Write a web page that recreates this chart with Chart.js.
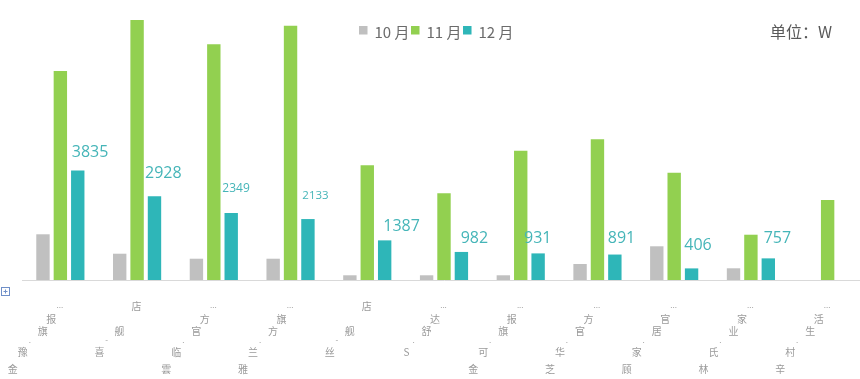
<!DOCTYPE html>
<html><head><meta charset="utf-8">
<script src="https://cdn.jsdelivr.net/npm/chart.js@4.4.1/dist/chart.umd.min.js"></script>
<style>html,body{margin:0;padding:0;background:#fff;overflow:hidden;width:860px;height:379px}canvas{display:block}</style>
</head><body>
<canvas id="c" width="866" height="379"></canvas>
<script>
// ---- data ----
const categoryLabels = [
  ["...","报","旗",".","豫","金"],
  ["店","","舰","-","喜",""],
  ["...","方","官",".","临","雲"],
  ["...","旗","方",".","兰","雅"],
  ["店","","舰","-","丝",""],
  ["...","达","舒",".","S",""],
  ["...","报","旗",".","可","金"],
  ["...","方","官",".","华","芝"],
  ["...","官","居",".","家","顾"],
  ["...","家","业",".","氏","林"],
  ["...","活","生",".","村","辛"]
];
const seriesNames = ["10 月", "11 月", "12 月"];
const oct = [1600, 920, 745, 745, 165, 165, 165, 560, 1180, 410, null];
const nov = [7315, 9100, 8250, 8900, 4015, 3035, 4525, 4925, 3755, 1585, 2800];
const dec = [3835, 2928, 2349, 2133, 1387, 982, 931, 891, 406, 757, null];
const unitText = "单位：W";

// ---- styles (positions / sizes) ----
const labelDx = [0.7, -2.8, -2.2, 1.1, 5.3, 6, -7.4, -0.4, -0.6, 2.1];
const labelRise = [13.4, 18, 21.2, 20.1, 9.7, 9.2, 10.7, 11.8, 18.4, 15.7];
const labelSize = [16, 16, 12, 11.5, 16, 16, 16, 16, 16, 16];
const tickSlots = [[-0.5, 26], [-9, 39], [-17.5, 51.5], [-30.5, 61.5], [-37.5, 72.5], [-47.5, 89]];

const labelPlugin = {
  id: 'decLabels',
  afterDatasetsDraw(chart, args, o) {
    const meta = chart.getDatasetMeta(2);
    const vals = chart.data.datasets[2].data;
    const ctx = chart.ctx;
    ctx.save();
    ctx.fillStyle = o.color;
    ctx.textAlign = 'left';
    ctx.textBaseline = 'alphabetic';
    meta.data.forEach((bar, i) => {
      const v = vals[i];
      if (v == null) return;
      ctx.font = labelSize[i] + 'px ' + o.family;
      ctx.fillText(String(v), bar.x - bar.width / 2 + labelDx[i], bar.y - labelRise[i]);
    });
    ctx.restore();
  }
};

const tickPlugin = {
  id: 'diagTicks',
  afterDraw(chart, args, o) {
    const xs = chart.scales.x;
    const ctx = chart.ctx;
    ctx.save();
    ctx.fillStyle = o.color;
    ctx.textAlign = 'center';
    chart.data.labels.forEach((lab, i) => {
      const cx = xs.getPixelForValue(i);
      lab.forEach((ch, k) => {
        if (!ch) return;
        const dx = tickSlots[k][0], dy = tickSlots[k][1];
        const punct = /^[.\-]+$/.test(ch);
        ctx.font = (punct ? o.punctSize : o.size) + 'px ' + o.family;
        ctx.textBaseline = punct ? 'alphabetic' : 'middle';
        ctx.fillText(ch, cx + dx, xs.top + dy + (punct ? 1.5 : 0));
      });
    });
    // small expand icon at the left edge
    ctx.strokeStyle = '#6f8fc8';
    ctx.lineWidth = 1;
    ctx.strokeRect(1.5, 287.5, 8, 8);
    ctx.beginPath();
    ctx.moveTo(3.5, 291.5); ctx.lineTo(7.5, 291.5);
    ctx.moveTo(5.5, 289.5); ctx.lineTo(5.5, 293.5);
    ctx.stroke();
    ctx.restore();
  }
};

const legendPlugin = {
  id: 'topLegend',
  afterDraw(chart, args, o) {
    const ctx = chart.ctx;
    ctx.save();
    ctx.font = o.size + 'px ' + o.family;
    ctx.textBaseline = 'middle';
    ctx.textAlign = 'left';
    let x = o.x;
    chart.data.datasets.forEach(ds => {
      ctx.fillStyle = ds.backgroundColor;
      ctx.fillRect(x, o.boxTop, o.box, o.box);
      x += o.box + o.gap;
      ctx.fillStyle = o.color;
      ctx.fillText(ds.label, x, o.textY);
      x += ctx.measureText(ds.label).width + o.itemGap;
    });
    ctx.font = o.unitSize + 'px ' + o.family;
    ctx.fillStyle = o.unitColor;
    ctx.fillText(unitText, o.unitX, o.unitY);
    ctx.restore();
  }
};

new Chart(document.getElementById('c'), {
  type: 'bar',
  data: {
    labels: categoryLabels,
    datasets: [
      { label: seriesNames[0], data: oct, backgroundColor: '#c0c0c0' },
      { label: seriesNames[1], data: nov, backgroundColor: '#92d050' },
      { label: seriesNames[2], data: dec, backgroundColor: '#2eb6b8' }
    ]
  },
  options: {
    responsive: false,
    animation: false,
    layout: { padding: { left: 22, right: 0, top: 8, bottom: 99 } },
    datasets: { bar: { categoryPercentage: 0.68, barPercentage: 0.77 } },
    scales: {
      x: {
        grid: { display: false, drawTicks: false },
        ticks: { display: false },
        border: { display: true, color: '#d9d9d9', width: 1 }
      },
      y: { display: false, min: 0, max: 9520 }
    },
    plugins: {
      legend: { display: false },
      tooltip: { enabled: false },
      decLabels: { color: '#45b5b8', family: '"Open Sans", sans-serif' },
      diagTicks: { color: '#9a9a9a', size: 10, punctSize: 8, family: '"Noto Sans CJK SC", sans-serif' },
      topLegend: {
        x: 359, boxTop: 26, box: 8.5, gap: 7, itemGap: 1.5, textY: 32.5,
        size: 15, color: '#6b6b6b', family: '"Noto Sans CJK SC", sans-serif',
        unitSize: 16, unitColor: '#595959', unitX: 770, unitY: 31.5
      }
    }
  },
  plugins: [labelPlugin, tickPlugin, legendPlugin]
});
</script>
</body></html>
